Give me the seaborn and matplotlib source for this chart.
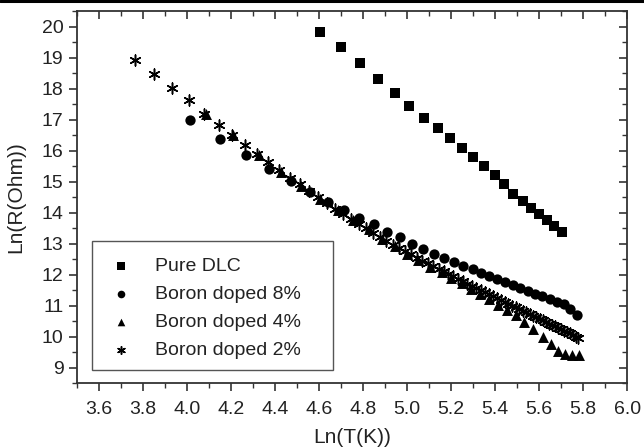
import numpy as np
import pandas as pd
import seaborn as sns
import matplotlib.pyplot as plt
from matplotlib.lines import Line2D
from matplotlib.patches import Rectangle
from matplotlib.ticker import MultipleLocator

# Pure DLC (squares)
lnT_pure = [4.605, 4.700, 4.785, 4.866, 4.942, 5.008, 5.074, 5.138, 5.192, 5.247, 5.300,
            5.350, 5.397, 5.440, 5.482, 5.525, 5.564, 5.600, 5.634, 5.669, 5.705]
lnR_pure = [19.84, 19.36, 18.82, 18.31, 17.86, 17.45, 17.06, 16.72, 16.40, 16.08, 15.79,
            15.49, 15.20, 14.91, 14.61, 14.37, 14.16, 13.95, 13.75, 13.56, 13.37]

# Boron doped 8% (circles)
lnT_b8 = [4.014, 4.148, 4.268, 4.373, 4.470, 4.559, 4.640, 4.711, 4.781, 4.849, 4.908,
          4.966, 5.021, 5.072, 5.121, 5.166, 5.212, 5.254, 5.297, 5.333, 5.371, 5.409,
          5.446, 5.481, 5.513, 5.548, 5.581, 5.614, 5.648, 5.680, 5.712, 5.742, 5.771]
lnR_b8 = [17.00, 16.39, 15.85, 15.41, 15.01, 14.66, 14.34, 14.07, 13.82, 13.62, 13.39,
          13.20, 12.99, 12.84, 12.68, 12.53, 12.40, 12.28, 12.17, 12.06, 11.95, 11.85,
          11.75, 11.65, 11.57, 11.47, 11.38, 11.30, 11.22, 11.13, 11.04, 10.89, 10.70]

# Boron doped 4% (triangles)
lnT_b4 = [4.086, 4.210, 4.324, 4.424, 4.518, 4.602, 4.685, 4.753, 4.826, 4.883, 4.943,
          4.997, 5.050, 5.103, 5.156, 5.201, 5.247, 5.288, 5.330, 5.371, 5.414, 5.452,
          5.493, 5.531, 5.573, 5.616, 5.652, 5.687, 5.717, 5.748, 5.780]
lnR_b4 = [17.19, 16.49, 15.87, 15.31, 14.86, 14.43, 14.10, 13.76, 13.46, 13.14, 12.91,
          12.68, 12.47, 12.26, 12.07, 11.89, 11.72, 11.53, 11.37, 11.21, 11.03, 10.87,
          10.70, 10.46, 10.23, 9.98, 9.77, 9.55, 9.44, 9.41, 9.39]

# Boron doped 2% (stars)
lnT_b2 = [3.761, 3.850, 3.932, 4.007, 4.078, 4.143, 4.205, 4.263, 4.317, 4.369, 4.419,
          4.466, 4.511, 4.554, 4.595, 4.635, 4.673, 4.710, 4.745, 4.779, 4.812, 4.844,
          4.875, 4.905, 4.934, 4.963, 4.990, 5.017, 5.043, 5.069, 5.094, 5.118, 5.142,
          5.165, 5.187, 5.209, 5.231, 5.252, 5.273, 5.293, 5.313, 5.333, 5.352, 5.371,
          5.389, 5.407, 5.425, 5.442, 5.460, 5.476, 5.493, 5.509, 5.525, 5.541, 5.557,
          5.572, 5.587, 5.602, 5.617, 5.631, 5.645, 5.659, 5.673, 5.687, 5.700, 5.714,
          5.727, 5.740, 5.753, 5.765, 5.778]
lnR_b2 = [18.93, 18.48, 18.02, 17.62, 17.19, 16.84, 16.49, 16.17, 15.88, 15.62, 15.36,
          15.13, 14.91, 14.70, 14.50, 14.31, 14.13, 13.96, 13.80, 13.64, 13.49, 13.35,
          13.22, 13.09, 12.97, 12.86, 12.75, 12.65, 12.55, 12.45, 12.36, 12.27, 12.18,
          12.10, 12.02, 11.94, 11.86, 11.78, 11.71, 11.64, 11.57, 11.50, 11.43, 11.36,
          11.30, 11.24, 11.18, 11.12, 11.06, 11.00, 10.94, 10.89, 10.83, 10.78, 10.72,
          10.67, 10.62, 10.57, 10.52, 10.47, 10.42, 10.38, 10.33, 10.28, 10.24, 10.19,
          10.15, 10.10, 10.05, 10.00, 9.95]

labels = ["Pure DLC", "Boron doped 8%", "Boron doped 4%", "Boron doped 2%"]

df = pd.concat([
    pd.DataFrame({"lnT": lnT_pure, "lnR": lnR_pure, "sample": labels[0]}),
    pd.DataFrame({"lnT": lnT_b8, "lnR": lnR_b8, "sample": labels[1]}),
    pd.DataFrame({"lnT": lnT_b4, "lnR": lnR_b4, "sample": labels[2]}),
    pd.DataFrame({"lnT": lnT_b2, "lnR": lnR_b2, "sample": labels[3]}),
], ignore_index=True)

sns.set_style("ticks")
plt.rcParams['font.family'] = ['Liberation Sans', 'DejaVu Sans']
txt = '#222222'
gray = '#333333'

fig = plt.figure(figsize=(6.44, 4.48), dpi=100)
ax = fig.add_axes([0.12, 0.145, 0.854, 0.830])

markers = {labels[0]: 's', labels[1]: 'o', labels[2]: '^', labels[3]: (6, 2, 0)}
sizes = {labels[0]: 55, labels[1]: 55, labels[2]: 62, labels[3]: 62}
for lab in labels:
    sub = df[df["sample"] == lab]
    sns.scatterplot(data=sub, x="lnT", y="lnR", marker=markers[lab], s=sizes[lab],
                    color='black', edgecolor='black',
                    linewidth=1.1 if lab == labels[3] else 0,
                    label=lab, ax=ax, legend=True)

ax.set_xlim(3.5, 6.0)
ax.set_ylim(8.5, 20.5)
xt = np.arange(3.6, 6.01, 0.2)
ax.set_xticks(xt)
ax.set_xticklabels([f"{v:.1f}" for v in xt])
ax.xaxis.set_minor_locator(MultipleLocator(0.1))
ax.yaxis.set_major_locator(MultipleLocator(1))
ax.yaxis.set_minor_locator(MultipleLocator(0.5))
ax.tick_params(which='major', direction='out', length=6, width=1.2, colors=gray,
               labelsize=14, labelcolor=txt, pad=4)
ax.tick_params(axis='x', which='major', pad=7)
ax.tick_params(which='minor', direction='out', length=3.5, width=1.0, colors=gray)
for sp in ax.spines.values():
    sp.set_visible(True)
    sp.set_linewidth(1.3)
    sp.set_color(gray)

# mirrored inward ticks on top and right
axt = ax.twiny()
axt.set_xlim(ax.get_xlim())
axt.xaxis.set_major_locator(MultipleLocator(0.2))
axt.xaxis.set_minor_locator(MultipleLocator(0.1))
axt.tick_params(which='major', direction='in', length=6, width=1.2, colors=gray, labeltop=False)
axt.tick_params(which='minor', direction='in', length=3.5, width=1.0, colors=gray)
axr = ax.twinx()
axr.set_ylim(ax.get_ylim())
axr.yaxis.set_major_locator(MultipleLocator(1))
axr.yaxis.set_minor_locator(MultipleLocator(0.5))
axr.tick_params(which='major', direction='in', length=6, width=1.2, colors=gray, labelright=False)
axr.tick_params(which='minor', direction='in', length=3.5, width=1.0, colors=gray)
for a in (axt, axr):
    for sp in a.spines.values():
        sp.set_visible(False)

ax.set_xlabel("Ln(T(K))", fontsize=15, color=txt, labelpad=7)
ax.set_ylabel("Ln(R(Ohm))", fontsize=15, color=txt, labelpad=12)

# legend without its own frame; frame drawn as a rectangle
leg = ax.legend(loc='upper left', bbox_to_anchor=(0.061, 0.337), borderaxespad=0,
                borderpad=0, frameon=False, fontsize=14, labelspacing=0.53,
                handletextpad=1.25, handlelength=1.0)
for t in leg.get_texts():
    t.set_color(txt)
for h in leg.legend_handles:
    h.set_sizes([30])
ax.add_patch(Rectangle((0.027, 0.035), 0.438, 0.347, transform=ax.transAxes,
                       fill=False, edgecolor='#555555', linewidth=1.0, zorder=5))

fig.add_artist(Line2D([0, 1], [0.997, 0.997], color='black', linewidth=2.2,
                      transform=fig.transFigure))

fig.savefig("out.png", dpi=100)
